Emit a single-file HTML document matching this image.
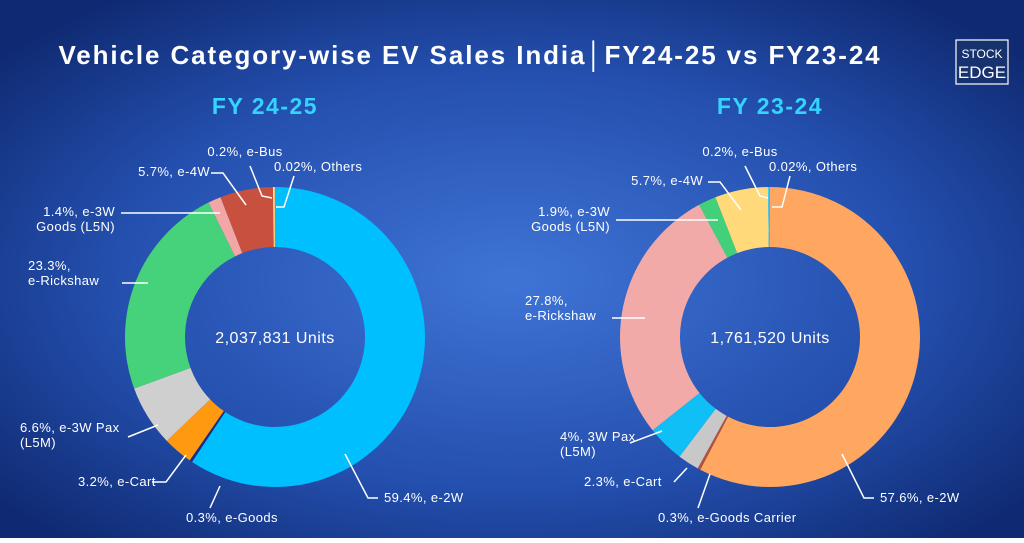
<!DOCTYPE html>
<html><head><meta charset="utf-8"><style>
html,body{margin:0;padding:0}
body{width:1024px;height:538px;overflow:hidden;font-family:"Liberation Sans",sans-serif}
svg text{font-family:"Liberation Sans",sans-serif}
</style></head><body>
<svg width="1024" height="538" viewBox="0 0 1024 538">
<defs>
<radialGradient id="bg" cx="50%" cy="52%" r="65%">
<stop offset="0" stop-color="#3f74d6"/><stop offset="0.6" stop-color="#244fae"/><stop offset="1" stop-color="#0f2a72"/>
</radialGradient>
</defs>
<rect width="1024" height="538" fill="url(#bg)"/>
<text x="470" y="64" text-anchor="middle" fill="#fff" font-size="26" font-weight="bold" letter-spacing="1.9">Vehicle Category-wise EV Sales India│FY24-25 vs FY23-24</text>
<g>
<rect x="956" y="40" width="52" height="44" fill="#16326f" stroke="#fff" stroke-width="1.2"/>
<text x="982" y="58" text-anchor="middle" fill="#fff" font-size="12">STOCK</text>
<text x="982" y="78" text-anchor="middle" fill="#fff" font-size="17">EDGE</text>
</g>
<text x="265" y="114" text-anchor="middle" fill="#35d3ff" font-size="23" font-weight="bold" letter-spacing="1.5">FY 24-25</text>
<text x="770" y="114" text-anchor="middle" fill="#35d3ff" font-size="23" font-weight="bold" letter-spacing="1.5">FY 23-24</text>
<g id="donuts"></g>
<g id="labels" fill="#fff" font-size="13" letter-spacing="0.4" stroke="none"></g>
</svg>
<script>
const catsA = ["e-2W","e-Goods","e-Cart","e-3W Pax","e-Rickshaw","e-3W Goods","e-4W","e-Bus","Others"];
const valsA = [59.4,0.3,3.2,6.6,23.3,1.4,5.7,0.2,0.02];
const colsA = ["#00bfff","#1a2d8a","#ff9a10","#cfcfcf","#45d27a","#f2a6a6","#c7503f","#ffe890","#ff9a10"];
const catsB = ["e-2W","e-Goods Carrier","e-Cart","3W Pax","e-Rickshaw","e-3W Goods","e-4W","e-Bus","Others"];
const valsB = [57.6,0.3,2.3,4,27.8,1.9,5.7,0.2,0.02];
const colsB = ["#ffa660","#b5503a","#c8c8c8","#10bff5","#f2aaa8","#43d07a","#ffd97a","#35d3ff","#8a5ad8"];
const totals = ["2,037,831 Units","1,761,520 Units"];
const NS="http://www.w3.org/2000/svg";
const g=document.getElementById('donuts');
function donut(cx,cy,R,r,cats,vals,cols,total,key){
  const sum=vals.reduce((a,b)=>a+b,0);
  let a=0;
  vals.forEach((v,i)=>{
    const a0=a/sum*2*Math.PI, a1=(a+v)/sum*2*Math.PI; a+=v;
    const p=(ang,rad)=>[cx+rad*Math.sin(ang),cy-rad*Math.cos(ang)];
    const [x0,y0]=p(a0,R),[x1,y1]=p(a1,R),[x2,y2]=p(a1,r),[x3,y3]=p(a0,r);
    const lg=(a1-a0)>Math.PI?1:0;
    const path=document.createElementNS(NS,'path');
    path.setAttribute('d',`M${x0},${y0}A${R},${R} 0 ${lg} 1 ${x1},${y1}L${x2},${y2}A${r},${r} 0 ${lg} 0 ${x3},${y3}Z`);
    path.setAttribute('fill',cols[i]);
    
    
    g.appendChild(path);
  });
  const t=document.createElementNS(NS,'text');
  t.setAttribute('x',cx);t.setAttribute('y',cy+6);t.setAttribute('text-anchor','middle');
  t.setAttribute('fill','#fff');t.setAttribute('font-size','16');t.setAttribute('letter-spacing','0.5');t.textContent=total;
  
  
  g.appendChild(t);
}
donut(275,337,150,90,catsA,valsA,colsA,totals[0],'fy2425');
donut(770,337,150,90,catsB,valsB,colsB,totals[1],'fy2324');
const L=document.getElementById('labels');
function lab(lines,x,y,anchor,pts,name){
  const pl=document.createElementNS(NS,'polyline');
  pl.setAttribute('points',pts);pl.setAttribute('fill','none');pl.setAttribute('stroke','#fff');pl.setAttribute('stroke-width','1.5');
  
  
  L.appendChild(pl);
  lines.forEach((s,k)=>{
    const t=document.createElementNS(NS,'text');
    t.setAttribute('x',x);t.setAttribute('y',y+k*15);t.setAttribute('text-anchor',anchor);t.textContent=s;
    
    
    L.appendChild(t);
  });
}
// Left
lab(["0.2%, e-Bus"],245,156,"middle","250,166 262,196 272,198","a-bus");
lab(["0.02%, Others"],274,171,"start","294,176 284,207 276,207","a-others");
lab(["5.7%, e-4W"],210,176,"end","211,173 223,173 246,205","a-4w");
lab(["1.4%, e-3W","Goods (L5N)"],115,216,"end","121,213 220,213","a-3wgoods");
lab(["23.3%,","e-Rickshaw"],28,270,"start","122,283 148,283","a-rickshaw");
lab(["6.6%, e-3W Pax","(L5M)"],20,432,"start","128,437 158,425","a-3wpax");
lab(["3.2%, e-Cart"],78,486,"start","152,482 166,482 186,455","a-cart");
lab(["0.3%, e-Goods"],186,522,"start","210,508 220,486","a-goods");
lab(["59.4%, e-2W"],384,502,"start","378,498 368,498 345,454","a-2w");
// Right
lab(["0.2%, e-Bus"],740,156,"middle","745,166 760,196 768,198","b-bus");
lab(["0.02%, Others"],769,171,"start","790,176 782,207 772,207","b-others");
lab(["5.7%, e-4W"],703,185,"end","708,182 720,182 741,210","b-4w");
lab(["1.9%, e-3W","Goods (L5N)"],610,216,"end","616,220 718,220","b-3wgoods");
lab(["27.8%,","e-Rickshaw"],525,305,"start","612,318 645,318","b-rickshaw");
lab(["4%, 3W Pax","(L5M)"],560,441,"start","630,443 662,431","b-3wpax");
lab(["2.3%, e-Cart"],584,486,"start","674,482 687,468","b-cart");
lab(["0.3%, e-Goods Carrier"],658,522,"start","698,508 710,474","b-goods");
lab(["57.6%, e-2W"],880,502,"start","874,498 864,498 842,454","b-2w");
</script>
</body></html>
